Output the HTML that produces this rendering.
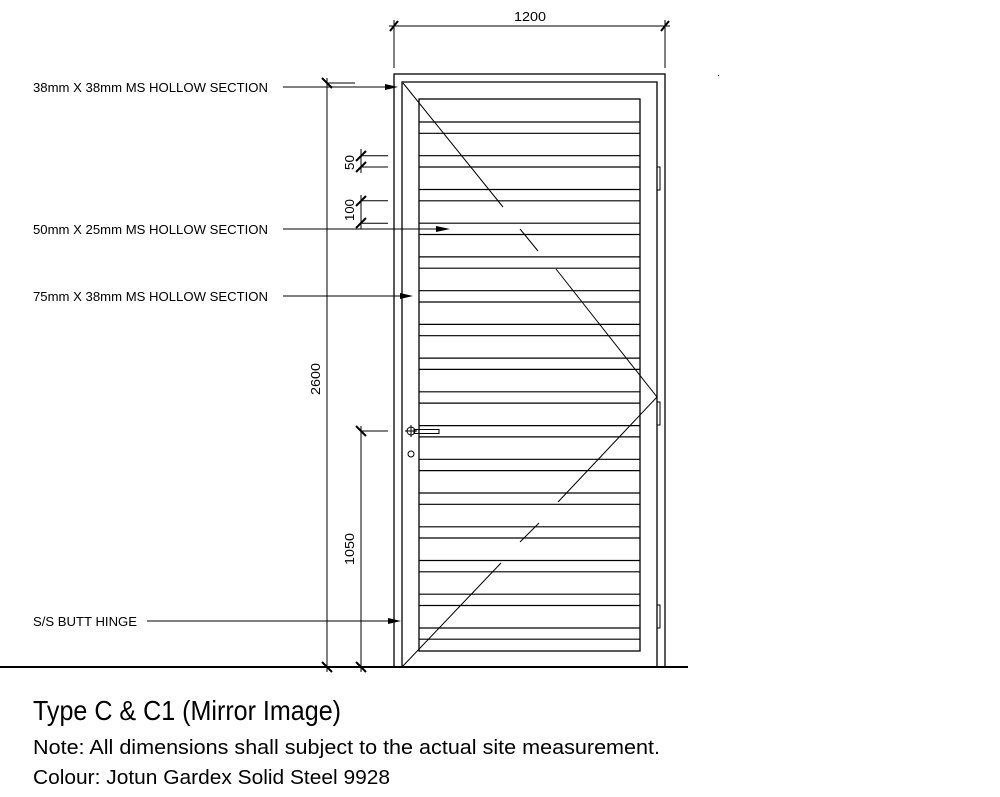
<!DOCTYPE html>
<html><head><meta charset="utf-8"><style>
html,body{margin:0;padding:0;background:#fff;}
svg{display:block;}
text{font-family:"Liberation Sans",sans-serif;fill:#000;}
</style></head><body>
<svg width="1000" height="797" viewBox="0 0 1000 797" xmlns="http://www.w3.org/2000/svg">
<g stroke="#000" fill="none" stroke-width="1.3">
<!-- frames -->
<rect x="394" y="74" width="271" height="593"/>
<polyline points="402,667 402,82 657,82 657,667"/>
<rect x="419" y="99" width="221" height="552"/>
<!-- slats -->
<g stroke-width="1.2">
<line x1="419" x2="640" y1="122" y2="122"/><line x1="419" x2="640" y1="133.3" y2="133.3"/>
<line x1="419" x2="640" y1="155.7" y2="155.7"/><line x1="419" x2="640" y1="167" y2="167"/>
<line x1="419" x2="640" y1="189.5" y2="189.5"/><line x1="419" x2="640" y1="200.8" y2="200.8"/>
<line x1="419" x2="640" y1="223.2" y2="223.2"/><line x1="419" x2="640" y1="234.5" y2="234.5"/>
<line x1="419" x2="640" y1="256.9" y2="256.9"/><line x1="419" x2="640" y1="268.2" y2="268.2"/>
<line x1="419" x2="640" y1="290.7" y2="290.7"/><line x1="419" x2="640" y1="302" y2="302"/>
<line x1="419" x2="640" y1="324.4" y2="324.4"/><line x1="419" x2="640" y1="335.7" y2="335.7"/>
<line x1="419" x2="640" y1="358.1" y2="358.1"/><line x1="419" x2="640" y1="369.4" y2="369.4"/>
<line x1="419" x2="640" y1="391.8" y2="391.8"/><line x1="419" x2="640" y1="403.1" y2="403.1"/>
<line x1="419" x2="640" y1="425.6" y2="425.6"/><line x1="419" x2="640" y1="436.9" y2="436.9"/>
<line x1="419" x2="640" y1="459.3" y2="459.3"/><line x1="419" x2="640" y1="470.6" y2="470.6"/>
<line x1="419" x2="640" y1="493" y2="493"/><line x1="419" x2="640" y1="504.3" y2="504.3"/>
<line x1="419" x2="640" y1="526.8" y2="526.8"/><line x1="419" x2="640" y1="538" y2="538"/>
<line x1="419" x2="640" y1="560.5" y2="560.5"/><line x1="419" x2="640" y1="571.8" y2="571.8"/>
<line x1="419" x2="640" y1="594.2" y2="594.2"/><line x1="419" x2="640" y1="605.5" y2="605.5"/>
<line x1="419" x2="640" y1="628" y2="628"/><line x1="419" x2="640" y1="639.2" y2="639.2"/>
</g>
<!-- swing lines -->
<g stroke-width="1">
<line x1="403" y1="83" x2="503" y2="207"/>
<line x1="520" y1="229" x2="538" y2="251"/>
<line x1="556" y1="269" x2="657" y2="397"/>
<line x1="657" y1="397" x2="558" y2="502"/>
<line x1="520" y1="542" x2="539" y2="523"/>
<line x1="501" y1="563" x2="402" y2="667"/>
</g>
<!-- hinges -->
<rect x="657" y="167" width="3" height="23" stroke-width="1"/>
<rect x="657" y="402" width="3" height="23" stroke-width="1"/>
<rect x="657" y="605" width="3" height="23" stroke-width="1"/>
<!-- handle -->
<circle cx="411" cy="431" r="4" stroke-width="1"/>
<line x1="405" y1="431" x2="417" y2="431" stroke-width="1"/>
<line x1="411" y1="425" x2="411" y2="437" stroke-width="1"/>
<rect x="414" y="429.5" width="25" height="4" stroke-width="1"/>
<circle cx="411" cy="454" r="3" stroke-width="1"/>
<!-- ground -->
<line x1="0" y1="667" x2="688" y2="667" stroke-width="2"/>
<!-- top dim -->
<line x1="389" y1="26" x2="670" y2="26" stroke-width="1"/>
<line x1="394" y1="20" x2="394" y2="68" stroke-width="1"/>
<line x1="665" y1="20" x2="665" y2="68" stroke-width="1"/>
<line x1="390" y1="31" x2="398" y2="21" stroke-width="2"/>
<line x1="661" y1="31" x2="669" y2="21" stroke-width="2"/>
<!-- vertical dims -->
<line x1="327" y1="78" x2="327" y2="672" stroke-width="1"/>
<line x1="322" y1="78" x2="356" y2="82" stroke-width="0"/>
<line x1="327" y1="83" x2="355" y2="83" stroke-width="1"/>
<line x1="322" y1="78" x2="332" y2="88" stroke-width="2"/>
<line x1="322" y1="662" x2="332" y2="672" stroke-width="2"/>
<line x1="361" y1="426" x2="361" y2="672" stroke-width="1"/>
<line x1="361" y1="431" x2="388" y2="431" stroke-width="1"/>
<line x1="356" y1="426" x2="366" y2="436" stroke-width="2"/>
<line x1="356" y1="662" x2="366" y2="672" stroke-width="2"/>
<!-- 50 / 100 small dims -->
<line x1="361" y1="149" x2="361" y2="173" stroke-width="1"/>
<line x1="361" y1="155.7" x2="388" y2="155.7" stroke-width="1"/>
<line x1="361" y1="167" x2="388" y2="167" stroke-width="1"/>
<line x1="356" y1="161" x2="366" y2="151" stroke-width="2"/>
<line x1="356" y1="172" x2="366" y2="162" stroke-width="2"/>
<line x1="361" y1="195" x2="361" y2="229" stroke-width="1"/>
<line x1="361" y1="200.8" x2="388" y2="200.8" stroke-width="1"/>
<line x1="361" y1="223.2" x2="388" y2="223.2" stroke-width="1"/>
<line x1="356" y1="206" x2="366" y2="196" stroke-width="2"/>
<line x1="356" y1="228" x2="366" y2="218" stroke-width="2"/>
<!-- leaders -->
<line x1="283" y1="87" x2="386" y2="87" stroke-width="1"/>
<line x1="283" y1="229" x2="437" y2="229" stroke-width="1"/>
<line x1="283" y1="296" x2="400" y2="296" stroke-width="1"/>
<line x1="147" y1="621" x2="388" y2="621" stroke-width="1"/>
</g>
<g fill="#000">
<polygon points="398,87 385,84 385,90"/>
<polygon points="450,229 436,226 436,232"/>
<polygon points="413,296 400,293 400,299"/>
<polygon points="401,621 388,618 388,624"/>
</g>
<g font-size="13">
<text x="33" y="92" textLength="235" lengthAdjust="spacingAndGlyphs">38mm X 38mm MS HOLLOW SECTION</text>
<text x="33" y="234" textLength="235" lengthAdjust="spacingAndGlyphs">50mm X 25mm MS HOLLOW SECTION</text>
<text x="33" y="301" textLength="235" lengthAdjust="spacingAndGlyphs">75mm X 38mm MS HOLLOW SECTION</text>
<text x="33" y="626" textLength="104" lengthAdjust="spacingAndGlyphs">S/S BUTT HINGE</text>
<text x="514" y="21" textLength="32" lengthAdjust="spacingAndGlyphs">1200</text>
<text transform="translate(320,395) rotate(-90)" textLength="32" lengthAdjust="spacingAndGlyphs">2600</text>
<text transform="translate(354,565) rotate(-90)" textLength="32" lengthAdjust="spacingAndGlyphs">1050</text>
<text transform="translate(354,170) rotate(-90)" textLength="15" lengthAdjust="spacingAndGlyphs">50</text>
<text transform="translate(354,221) rotate(-90)" textLength="22" lengthAdjust="spacingAndGlyphs">100</text>
</g>
<text x="33" y="720" font-size="28" textLength="308" lengthAdjust="spacingAndGlyphs">Type C &amp; C1 (Mirror Image)</text>
<text x="33" y="754" font-size="20" textLength="627" lengthAdjust="spacingAndGlyphs">Note: All dimensions shall subject to the actual site measurement.</text>
<text x="33" y="784" font-size="20" textLength="357" lengthAdjust="spacingAndGlyphs">Colour: Jotun Gardex Solid Steel 9928</text>
<rect x="718" y="75" width="1" height="1" fill="#000"/>
</svg>
</body></html>
